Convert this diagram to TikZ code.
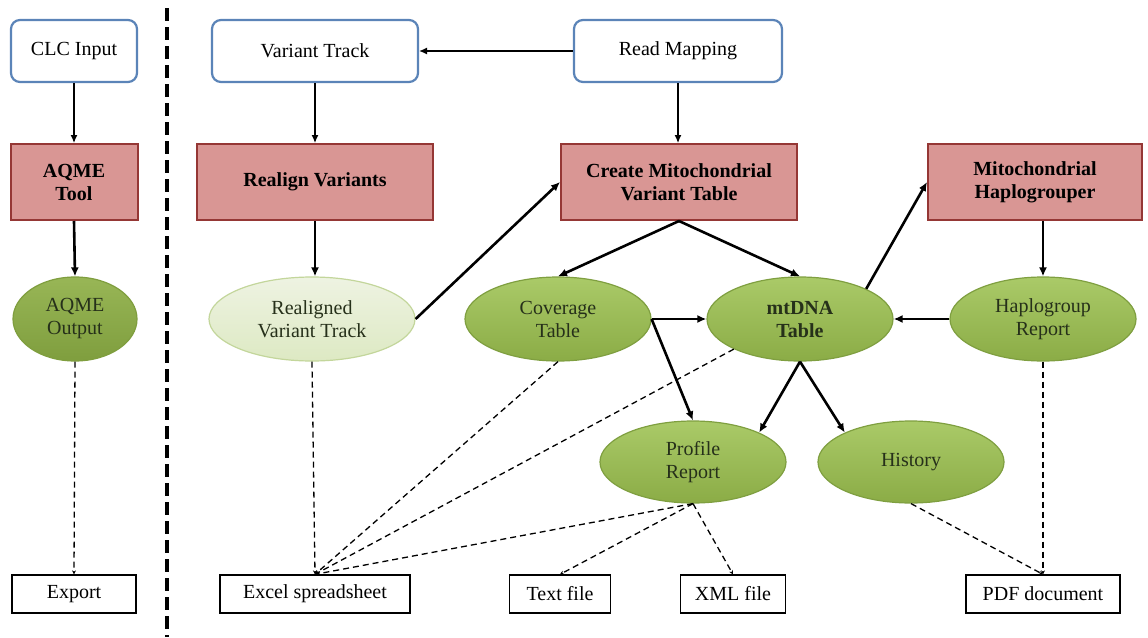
\documentclass[tikz,border=0pt]{standalone}
\usepackage{fontspec}
\setmainfont{Liberation Serif}
\usetikzlibrary{shapes.geometric,arrows.meta,calc}
\definecolor{boxblue}{HTML}{5B84B8}
\definecolor{pinkfill}{HTML}{D99694}
\definecolor{pinkdraw}{HTML}{953735}
\definecolor{grntop}{HTML}{AACA68}
\definecolor{grnbot}{HTML}{8BAC46}
\definecolor{grndraw}{HTML}{7F9F40}
\definecolor{aqtop}{HTML}{98B656}
\definecolor{aqbot}{HTML}{7F9E3E}
\definecolor{lightg}{HTML}{EEF3E2}
\definecolor{lightgb}{HTML}{DDE9C3}
\definecolor{lightgdraw}{HTML}{C3D69B}
\definecolor{txtdark}{HTML}{26301A}
\begin{document}
\begin{tikzpicture}[x=1pt,y=-1pt,
  every node/.style={font=\fontsize{20}{23}\selectfont, align=center, inner sep=0pt},
  inbox/.style={draw=boxblue, line width=2.2pt, rounded corners=9pt, fill=white, minimum height=62pt},
  toolbox/.style={draw=pinkdraw, line width=2pt, fill=pinkfill, minimum height=76pt, font=\fontsize{20}{23}\selectfont\bfseries},
  dataell/.style={ellipse, draw=grndraw, line width=1.2pt, top color=grntop, bottom color=grnbot, minimum height=84pt, text=txtdark},
  aqell/.style={ellipse, draw=aqbot, line width=1.2pt, top color=aqtop, bottom color=aqbot, minimum height=84pt, text=txtdark},
  lightell/.style={ellipse, draw=lightgdraw, line width=1.2pt, top color=lightg, bottom color=lightgb, minimum height=84pt, text=txtdark},
  outbox/.style={draw=black, line width=1.3pt, minimum height=38pt},
  thinarr/.style={-{Latex[length=8pt,width=7pt]}, line width=1.2pt},
  thickarr/.style={-{Latex[length=9pt,width=8pt]}, line width=2.6pt},
  dashline/.style={line width=1.3pt, dash pattern=on 6pt off 4pt, -{Stealth[length=4pt,width=4pt]}},
  divider/.style={line width=4.5pt, dash pattern=on 13pt off 6pt}
]
\fill[white] (0,0) rectangle (1148,637);
\useasboundingbox (0,0) rectangle (1148,637);

% divider
\coordinate (divtop) at (167,8);
\coordinate (divbot) at (167,637);
\draw[divider] (divtop) -- (divbot);

% top inputs
\node[inbox, minimum width=126pt] (clc) at (74,51) {CLC Input};
\node[inbox, minimum width=206pt] (vt) at (315,51) {Variant Track};
\node[inbox, minimum width=208pt] (rm) at (678,51) {Read Mapping};

% tools
\node[toolbox, minimum width=127pt] (aqt) at (74,182) {AQME\\Tool};
\node[toolbox, minimum width=236pt] (rv) at (315,182) {Realign Variants};
\node[toolbox, minimum width=236pt] (cm) at (679,182) {Create Mitochondrial\\Variant Table};
\node[toolbox, minimum width=214pt] (mh) at (1035,182) {Mitochondrial\\Haplogrouper};

% data ellipses
\node[aqell, minimum width=124pt] (ao) at (75,319) {AQME\\Output};
\node[lightell, minimum width=206pt] (rvt) at (312,319) {Realigned\\Variant Track};
\node[dataell, minimum width=186pt] (ct) at (558,319) {Coverage\\Table};
\node[dataell, minimum width=186pt, font=\fontsize{20}{23}\selectfont\bfseries] (mt) at (800,319) {mtDNA\\Table};
\node[dataell, minimum width=186pt] (hr) at (1043,319) {Haplogroup\\Report};
\node[dataell, minimum width=186pt, minimum height=82pt] (pr) at (693,462) {Profile\\Report};
\node[dataell, minimum width=186pt, minimum height=82pt] (hi) at (911,462) {History};

% outputs
\node[outbox, minimum width=124pt] (ex) at (74,594) {Export};
\node[outbox, minimum width=190pt] (xl) at (315,594) {Excel spreadsheet};
\node[outbox, minimum width=101pt] (tf) at (560,594) {Text file};
\node[outbox, minimum width=105pt] (xm) at (733,594) {XML file};
\node[outbox, minimum width=154pt] (pd) at (1043,594) {PDF document};

% thin arrows
\draw[thinarr] (clc.south) -- (aqt.north);
\draw[thinarr] (rm.west) -- (vt.east);
\draw[thinarr] (vt.south) -- (vt.south |- rv.north);
\draw[thinarr] (rm.south) -- (rm.south |- cm.north);

% thick arrows
\draw[thickarr] (aqt.south) -- (ao.north);
\draw[thickarr] (rv.south) -- (rv.south |- rvt.north);
\draw[thickarr] (rvt.east) -- (cm.west);
\draw[thickarr] (cm.south) -- (ct.north);
\draw[thickarr] (cm.south) -- (mt.north);
\draw[thickarr] (ct.east) -- (mt.west);
\draw[thickarr] (ct.east) -- (pr.north);
\draw[thickarr] (mt.north east) -- (mh.west);
\draw[thickarr] (hr.north |- mh.south) -- (hr.north);
\draw[thickarr] (hr.west) -- (mt.east);
\draw[thickarr] (mt.south) -- (pr.north east);
\draw[thickarr] (mt.south) -- (hi.north west);

% dashed export lines
\draw[dashline] (ao.south) -- (ex.north);
\draw[dashline] (rvt.south) -- (xl.north);
\draw[dashline] (ct.south) -- (xl.north);
\draw[dashline] (mt.south west) -- (xl.north);
\draw[dashline] (pr.south) -- (xl.north);
\draw[dashline] (pr.south) -- (tf.north);
\draw[dashline] (pr.south) -- (xm.north);
\draw[dashline] (hi.south) -- (pd.north);
\draw[dashline] (hr.south) -- (pd.north);
\end{tikzpicture}
\end{document}
